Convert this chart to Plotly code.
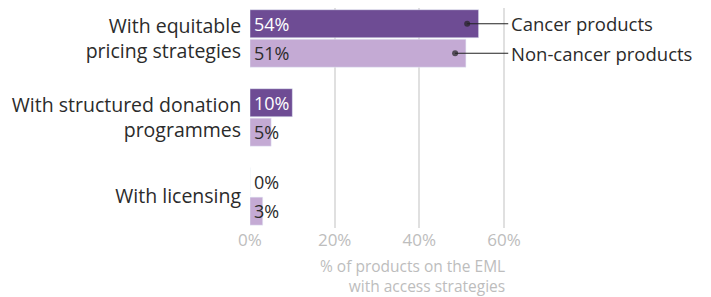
import plotly.graph_objects as go

categories = ["With equitable<br>pricing strategies", "With structured donation<br>programmes", "With licensing"]
series_names = ["Cancer products", "Non-cancer products"]
cancer = [54, 10, 0]
non_cancer = [51, 5, 3]
x_ticks = [0, 20, 40, 60]
x_tick_labels = ["0%", "20%", "40%", "60%"]
axis_title = "% of products on the EML<br>with access strategies"

DARK = "rgb(110,76,148)"
LIGHT = "rgb(196,170,212)"
TXT = "#2b2b2b"
GRAY = "#bdbdbd"
FONT = "Open Sans"

# page has an 8px body margin; figure is sized/placed to compensate
W, H = 703, 289
L, T, B = 242, 0, 69
ypos = list(range(len(categories)))
fig = go.Figure()
fig.add_trace(go.Bar(y=ypos, x=cancer, orientation="h", marker_color=DARK, name=series_names[0], showlegend=False))
fig.add_trace(go.Bar(y=ypos, x=non_cancer, orientation="h", marker_color=LIGHT, name=series_names[1], showlegend=False))

slot = (1 - 0.253) / 2
offs = [-slot / 2, slot / 2]

annotations = []
for k, (vals, col) in enumerate([(cancer, "white"), (non_cancer, TXT)]):
    for i, v in enumerate(vals):
        c = col if v > 0 else TXT
        annotations.append(dict(x=0, y=i + offs[k], xref="x", yref="y", text=f"{v}%", showarrow=False,
                                xanchor="left", xshift=2, font=dict(family=FONT, size=18, color=c)))

# callouts
for k, vals in enumerate([cancer, non_cancer]):
    y = 0 + offs[k]
    fig.add_trace(go.Scatter(x=[vals[0] * 0.95, 61], y=[y, y], mode="lines+markers",
                             line=dict(color="#222", width=1.2),
                             marker=dict(size=[6, 0], color="#222", line=dict(width=0)),
                             showlegend=False, hoverinfo="skip", cliponaxis=False))
    annotations.append(dict(x=61, y=y, xref="x", yref="y", text=series_names[k], showarrow=False,
                            xanchor="left", xshift=1, font=dict(family=FONT, size=18.5, color=TXT)))

plot_h = H - T - B
annotations.append(dict(x=60, y=-48 / plot_h, xref="x", yref="paper", text=axis_title, showarrow=False,
                        xanchor="right", yanchor="middle", align="right", xshift=2, borderpad=0,
                        font=dict(family=FONT, size=15.5, color=GRAY)))

plot_w = W - L
fig.update_layout(
    width=W, height=H,
    margin=dict(l=L, r=0, t=T, b=B, autoexpand=False),
    paper_bgcolor="white", plot_bgcolor="white",
    barmode="group", bargap=0.253, bargroupgap=0.05,
    annotations=annotations,
    xaxis=dict(range=[0, plot_w / (254 / 60)], tickvals=x_ticks, ticktext=x_tick_labels,
               showgrid=True, gridcolor="#e0e0e0", gridwidth=1.5, zeroline=False, automargin=False,
               tickfont=dict(family=FONT, size=17, color=GRAY), ticks="", fixedrange=True),
    yaxis=dict(range=[2.4, -0.386], tickvals=ypos, ticktext=categories, showgrid=False, zeroline=False,
               automargin=False, ticks="outside", ticklen=4, tickcolor="rgba(0,0,0,0)",
               tickfont=dict(family=FONT, size=19.5, color=TXT)),
    font=dict(family=FONT),
)
fig.write_html("out.html")
